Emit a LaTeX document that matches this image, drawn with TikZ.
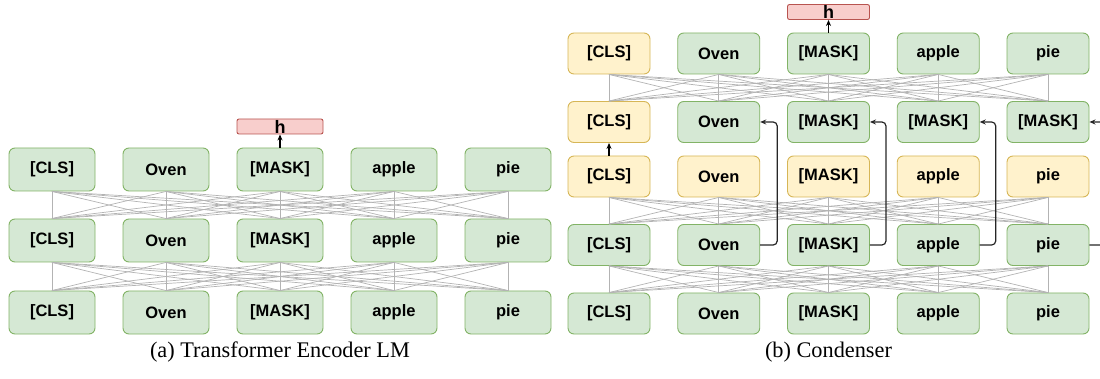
\documentclass[tikz,border=0pt]{standalone}
\usepackage{fontspec}
\setmainfont{Liberation Serif}
\newfontfamily\boxfont{Liberation Sans}
\usetikzlibrary{arrows.meta}
\definecolor{gfill}{HTML}{D5E8D4}
\definecolor{gline}{HTML}{82B366}
\definecolor{yfill}{HTML}{FFF2CC}
\definecolor{yline}{HTML}{D6B656}
\definecolor{rfill}{HTML}{F8CECC}
\definecolor{rline}{HTML}{B85450}
\definecolor{mesh}{HTML}{B3B3B3}
\begin{document}
\begin{tikzpicture}[x=1pt,y=-1pt,
 tok/.style={rounded corners=6pt, line width=0.9pt, minimum width=86pt, minimum height=43pt, inner sep=0pt, text=black, font=\boxfont\bfseries\fontsize{16.5}{18}\selectfont},
 gtok/.style={tok, fill=gfill, draw=gline},
 ytok/.style={tok, fill=yfill, draw=yline},
 narrow/.style={minimum width=82pt, minimum height=41pt},
 hbox/.style={rounded corners=2pt, fill=rfill, draw=rline, line width=0.9pt, minimum height=15pt, inner sep=0pt, font=\boxfont\bfseries\fontsize{18}{18}\selectfont},
 meshline/.style={draw=mesh, line width=0.7pt},
 uparrow/.style={draw=black, line width=1.2pt, -{Stealth[length=6pt,width=5pt]}},
 link/.style={draw=black!85, line width=1.2pt, rounded corners=4pt, -{Stealth[length=6pt,width=5pt]}},
 captext/.style={font=\fontsize{22.3}{24}\selectfont, inner sep=0pt}
]
\useasboundingbox (0,0) rectangle (1100,379);
\clip (0,0) rectangle (1100,379);

% ---------- (a) Transformer Encoder LM ----------
\foreach \r/\y in {1/169.5,2/240.5,3/312.5}{
  \foreach \i/\t in {1/{[CLS]},2/Oven,3/{[MASK]},4/apple,5/pie}{
    \node[gtok] (L\r\i) at ({52+114*(\i-1)},\y) {\t};
  }
}
\foreach \a in {1,...,5}{
  \foreach \b in {1,...,5}{
    \draw[meshline] (L1\a.south) -- (L2\b.north);
    \draw[meshline] (L2\a.south) -- (L3\b.north);
  }
}
\node[hbox, minimum width=86pt] (hL) at (280,126.5) {h};
\draw[uparrow] (L13.north) -- (hL.south);
\node[captext] (capA) at (280,352) {(a) Transformer Encoder LM};

% ---------- (b) Condenser ----------
\foreach \i/\t/\s in {1/{[CLS]}/ytok,2/Oven/gtok,3/{[MASK]}/gtok,4/apple/gtok,5/pie/gtok}{
  \node[\s, narrow] (R1\i) at ({609+109.75*(\i-1)},53.5) {\t};
}
\foreach \i/\t/\s in {1/{[CLS]}/ytok,2/Oven/gtok,3/{[MASK]}/gtok,4/{[MASK]}/gtok,5/{[MASK]}/gtok}{
  \node[\s, narrow] (R2\i) at ({609+109.75*(\i-1)},122) {\t};
}
\foreach \i/\t in {1/{[CLS]},2/Oven,3/{[MASK]},4/apple,5/pie}{
  \node[ytok, narrow] (R3\i) at ({609+109.75*(\i-1)},176.5) {\t};
  \node[gtok, narrow] (R4\i) at ({609+109.75*(\i-1)},245) {\t};
  \node[gtok, narrow] (R5\i) at ({609+109.75*(\i-1)},313.5) {\t};
}
\foreach \a in {1,...,5}{
  \foreach \b in {1,...,5}{
    \draw[meshline] (R1\a.south) -- (R2\b.north);
    \draw[meshline] (R3\a.south) -- (R4\b.north);
    \draw[meshline] (R4\a.south) -- (R5\b.north);
  }
}
\node[hbox, minimum width=82pt] (hR) at (828.5,12) {h};
\draw[uparrow] (R13.north) -- (hR.south);
\draw[uparrow] (R31.north) -- (R21.south);
\draw[link] (R42.east) -- ++(17,0) |- (R22.east);
\draw[link] (R43.east) -- ++(16,0) |- (R23.east);
\draw[link] (R44.east) -- ++(16,0) |- (R24.east);
\draw[link] (R45.east) -- ++(17,0) |- (R25.east);
\node[captext] (capB) at (828.5,352) {(b) Condenser};
\end{tikzpicture}
\end{document}
